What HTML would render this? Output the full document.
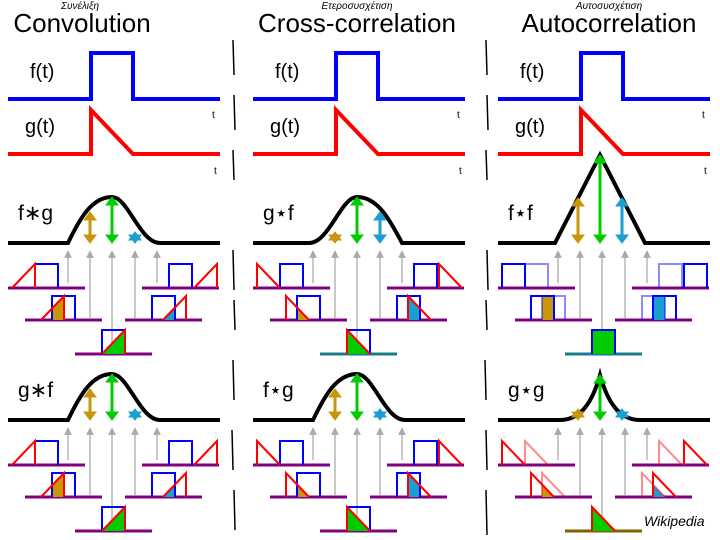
<!DOCTYPE html>
<html><head><meta charset="utf-8"><style>
html,body{margin:0;padding:0;background:#fff;width:720px;height:540px;overflow:hidden}
svg{display:block}
text{font-family:"Liberation Sans","DejaVu Sans",sans-serif}
</style></head><body>
<svg id="s" width="720" height="540" viewBox="0 0 720 540" xmlns="http://www.w3.org/2000/svg">
<defs>
<marker id="ga" markerWidth="6" markerHeight="6" refX="3" refY="3" orient="auto"><path d="M0,0 L6,3 L0,6 z" fill="#aaa"/></marker>
</defs>
<text x="82" y="32" font-size="26" text-anchor="middle">Convolution</text>
<text x="357" y="32" font-size="26" text-anchor="middle">Cross-correlation</text>
<text x="609" y="32" font-size="26" text-anchor="middle">Autocorrelation</text>
<text x="80" y="9" font-size="10" text-anchor="middle" font-style="italic">Συνέλιξη</text>
<text x="357" y="9" font-size="10" text-anchor="middle" font-style="italic">Ετεροσυσχέτιση</text>
<text x="609" y="9" font-size="10" text-anchor="middle" font-style="italic">Αυτοσυσχέτιση</text>
<text x="644" y="526" font-size="14" font-style="italic">Wikipedia</text>
<g id="g"></g>
</svg>
<script>
var NS="http://www.w3.org/2000/svg",G=document.getElementById("g"),uid=0;
function el(t,a){var e=document.createElementNS(NS,t);for(var k in a)e.setAttribute(k,a[k]);G.appendChild(e);return e;}
function P(d,c,w,f,o){return el("path",{d:d,stroke:c,"stroke-width":w,fill:f||"none",opacity:o||1,"stroke-linejoin":"miter"});}
function T(x,y,s,sz){var e=el("text",{x:x,y:y,"font-size":sz||20});e.textContent=s;}
var BL="#0000ff",RD="#ff0000",PU="#800080",GO="#c8960a",GR="#00cc00",CY="#1a9fd0";
var OX=[0,245,490];
[[233,40,75],[234,95,130],[233,150,180],[233,250,290],[234,300,330],[233,360,400],[232,430,470],[234,490,530],
 [486,40,75],[487,95,130],[486,150,180],[487,250,290],[486,300,330],[485,360,400],[486,430,470],[486,490,535]].forEach(function(s){P("M"+s[0]+" "+s[1]+" L"+(s[0]+1)+" "+s[2],"#000",1.5);});
OX.forEach(function(o,ci){
  T(o+30,78,"f(t)");T(o+25,133,"g(t)");
  T(o+212,118,"t",10);T(o+214,174,"t",10);
  P("M"+(o+8)+" 99 L"+(o+91)+" 99 L"+(o+91)+" 53 L"+(o+133)+" 53 L"+(o+133)+" 99 L"+(o+220)+" 99",BL,4);
  P("M"+(o+8)+" 154 L"+(o+91)+" 154 L"+(o+91)+" 110 L"+(o+133)+" 154 L"+(o+220)+" 154",RD,4);
});
function arrow(x,y1,y2,c){P("M"+x+" "+(y1+4)+" L"+x+" "+(y2-4),c,3);
 P("M"+(x-6)+" "+(y1+8)+" L"+x+" "+y1+" L"+(x+6)+" "+(y1+8)+"z",c,1,c);
 P("M"+(x-6)+" "+(y2-8)+" L"+x+" "+y2+" L"+(x+6)+" "+(y2-8)+"z",c,1,c);}
function gray(x,y1,y2){el("line",{x1:x,y1:y1,x2:x,y2:y2+3,stroke:"#aaa","stroke-width":1.3,"marker-end":"url(#ga)"});}
function small(x0,y,type,s,fill,base){
  var rx=x0+27,rw=23,h=24,id="c"+(uid++);
  P("M"+x0+" "+y+" L"+(x0+77)+" "+y,base||PU,3);
  var cp=el("clipPath",{id:id});var r=document.createElementNS(NS,"rect");
  r.setAttribute("x",rx);r.setAttribute("y",y-h);r.setAttribute("width",rw);r.setAttribute("height",h);cp.appendChild(r);
  var a=x0+s;
  if(type=="conv"){var d="M"+a+" "+y+" L"+(a+rw)+" "+(y-h)+" L"+(a+rw)+" "+y+"z";
    if(fill)P(d,"none",0,fill).setAttribute("clip-path","url(#"+id+")");
    P("M"+rx+" "+y+" L"+rx+" "+(y-h)+" L"+(rx+rw)+" "+(y-h)+" L"+(rx+rw)+" "+y,BL,2);
    P("M"+a+" "+y+" L"+(a+rw)+" "+(y-h)+" L"+(a+rw)+" "+y,RD,2);}
  else if(type=="xc"){var d="M"+a+" "+y+" L"+a+" "+(y-h)+" L"+(a+rw)+" "+y+"z";
    if(fill)P(d,"none",0,fill).setAttribute("clip-path","url(#"+id+")");
    P("M"+rx+" "+y+" L"+rx+" "+(y-h)+" L"+(rx+rw)+" "+(y-h)+" L"+(rx+rw)+" "+y,BL,2);
    P("M"+a+" "+y+" L"+a+" "+(y-h)+" L"+(a+rw)+" "+y,RD,2);}
  else if(type=="ff"){
    if(fill){var fx=Math.max(a,rx),fw=Math.min(a+rw,rx+rw)-fx;if(fw>0)el("rect",{x:fx,y:y-h,width:fw,height:h,fill:fill});}
    P("M"+rx+" "+y+" L"+rx+" "+(y-h)+" L"+(rx+rw)+" "+(y-h)+" L"+(rx+rw)+" "+y,BL,2,"none",0.45);
    P("M"+a+" "+y+" L"+a+" "+(y-h)+" L"+(a+rw)+" "+(y-h)+" L"+(a+rw)+" "+y,BL,2);}
  else if(type=="gg"){var d="M"+a+" "+y+" L"+a+" "+(y-h)+" L"+(a+rw)+" "+y+"z";
    if(fill){var d2="M"+rx+" "+y+" L"+rx+" "+(y-h)+" L"+(rx+rw)+" "+y+"z";
      var c2="c"+(uid++);var cp2=el("clipPath",{id:c2});var pp=document.createElementNS(NS,"path");pp.setAttribute("d",d2);cp2.appendChild(pp);
      P(d,"none",0,fill).setAttribute("clip-path","url(#"+c2+")");}
    P("M"+rx+" "+y+" L"+rx+" "+(y-h)+" L"+(rx+rw)+" "+y,RD,2,"none",0.45);
    P("M"+a+" "+y+" L"+a+" "+(y-h)+" L"+(a+rw)+" "+y,RD,2);}
}
function gen(o,yb,label,curve,arr,type,b3){
  T(o+18,yb-23,label,21);P(curve,"#000",4);
  var xs=[68,90,112,135,157],ys=[yb+40,yb+75,yb+108,yb+75,yb+40];
  xs.forEach(function(x,i){gray(o+x,ys[i],yb+8);});
  arr.forEach(function(a){arrow(o+a[0],a[1],yb,a[2]);});
  small(o+8,yb+45,type,4,null);small(o+25,yb+77,type,16,GO);small(o+75,yb+111,type,27,GR,b3);
  small(o+125,yb+77,type,38,CY);small(o+142,yb+45,type,52,null);
}
function bell(o,yb,skew){
  if(skew>0)return "M"+(o+8)+" "+yb+" L"+(o+68)+" "+yb+" C"+(o+80)+" "+(yb-25)+" "+(o+92)+" "+(yb-46)+" "+(o+112)+" "+(yb-46)+" C"+(o+128)+" "+(yb-46)+" "+(o+140)+" "+yb+" "+(o+160)+" "+yb+" L"+(o+220)+" "+yb;
  return "M"+(o+8)+" "+yb+" L"+(o+64)+" "+yb+" C"+(o+84)+" "+yb+" "+(o+96)+" "+(yb-46)+" "+(o+112)+" "+(yb-46)+" C"+(o+132)+" "+(yb-46)+" "+(o+144)+" "+(yb-25)+" "+(o+157)+" "+yb+" L"+(o+220)+" "+yb;
}
var y1=243,y2=420;
gen(0,y1,"f∗g",bell(0,y1,1),[[90,212,GO],[112,197,GR],[135,232,CY]],"conv",PU);
gen(0,y2,"g∗f",bell(0,y2,1),[[90,389,GO],[112,374,GR],[135,409,CY]],"conv",PU);
var o=245;
gen(o,y1,"g⋆f",bell(o,y1,-1),[[90,232,GO],[112,197,GR],[135,212,CY]],"xc","#1a7a8a");
gen(o,y2,"f⋆g",bell(o,y2,1),[[90,389,GO],[112,374,GR],[135,409,CY]],"xc",PU);
o=490;
gen(o,y1,"f⋆f","M"+(o+8)+" "+y1+" L"+(o+65)+" "+y1+" L"+(o+110)+" 155 L"+(o+155)+" "+y1+" L"+(o+220)+" "+y1,[[88,198,GO],[110,155,GR],[132,198,CY]],"ff","#1a7a8a");
gen(o,y2,"g⋆g","M"+(o+8)+" "+y2+" L"+(o+70)+" "+y2+" C"+(o+92)+" "+y2+" "+(o+103)+" 400 "+(o+110)+" 375 C"+(o+117)+" 400 "+(o+128)+" "+y2+" "+(o+150)+" "+y2+" L"+(o+220)+" "+y2,[[88,409,GO],[110,375,GR],[132,409,CY]],"gg","#806000");
</script>
</body></html>
